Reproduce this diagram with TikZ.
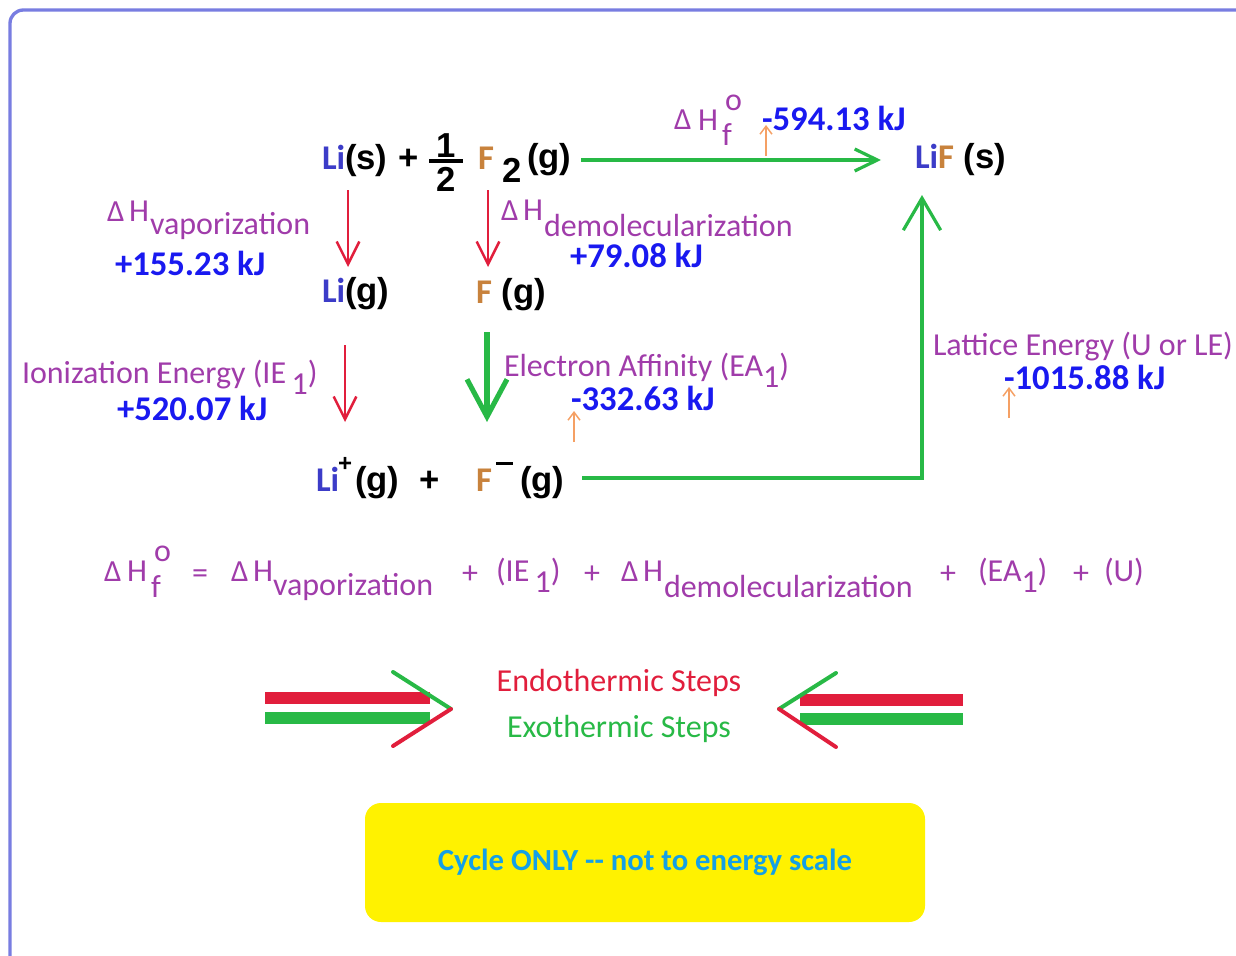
\documentclass[tikz,border=0pt]{standalone}
\usepackage{fontspec}
\setmainfont{Carlito}
\newfontfamily\arialf{Liberation Sans}
\newfontfamily\calf{Carlito}
\usetikzlibrary{arrows.meta}
\definecolor{purp}{RGB}{160,60,170}
\definecolor{valblue}{RGB}{25,25,240}
\definecolor{liblue}{RGB}{60,60,200}
\definecolor{fbrown}{RGB}{200,130,60}
\definecolor{redc}{RGB}{225,30,60}
\definecolor{greenc}{RGB}{40,185,70}
\definecolor{orangec}{RGB}{245,160,100}
\definecolor{cyanc}{RGB}{20,160,230}
\definecolor{yel}{RGB}{255,242,0}
\definecolor{framec}{RGB}{120,125,225}
\newcommand\LI{{\calf\bfseries\color{liblue}Li}}
\newcommand\FF{{\calf\bfseries\color{fbrown}F}}
\newcommand\lowr[1]{\raisebox{-0.35em}{#1}}
\begin{document}
\begin{tikzpicture}[x=0.75pt,y=-0.75pt,
  every node/.style={inner sep=0pt,outer sep=0pt,anchor=base west},
  chem/.style={font=\arialf\bfseries\fontsize{26}{30}\selectfont,text=black},
  chemsmall/.style={font=\arialf\bfseries\fontsize{18}{20}\selectfont,text=black},
  pur/.style={text=purp,font=\fontsize{24}{28}\selectfont},
  dlt/.style={text=purp,font=\fontsize{23}{26}\selectfont},
  val/.style={text=valblue,font=\bfseries\fontsize{26}{30}\selectfont},
  redarr/.style={draw=redc,line width=1.9pt,-{Straight Barb[length=17pt,width=17pt]}},
  grnarr/.style={draw=greenc,line width=2.4pt,-{Straight Barb[length=17pt,width=16.5pt]}},
  bigarr/.style={draw=greenc,line width=3.8pt,-{Straight Barb[length=28pt,width=30pt]}},
  uparr/.style={draw=greenc,line width=2.4pt,-{Straight Barb[length=24pt,width=28pt]}},
  orarr/.style={draw=orangec,line width=1.1pt,-{Straight Barb[length=6pt,width=9pt]}},
  legline/.style={line width=3pt,line cap=round}]
\useasboundingbox (0,0) rectangle (1236,956);
% frame
\draw[framec,line width=2.5pt,rounded corners=10pt] (10,975) -- (10,10) -- (1260,10);

% top row
\node[chem] (lis) at (322,169) {\LI(s)};
\node[chem] (plus1) at (398,169) {+};
\node[chem,anchor=base] (one) at (446,157) {1};
\node[chem,anchor=base] (two) at (446,191) {2};
\coordinate (fbl) at (429,161); \coordinate (fbr) at (463,161);
\draw[line width=2.4pt] (fbl) -- (fbr);
\node[chem] (f2) at (478,169) {\FF};
\node[chem] (sub2) at (502,182) {2};
\node[chem] (f2g) at (527,168) {(g)};
\coordinate (hfs) at (581,160); \coordinate (hfe) at (881,160);
\draw[grnarr] (hfs) -- (hfe);
\node[dlt] (hfd) at (674,130) {Δ};
\node[pur] (hfh) at (698,131) {H};
\node[pur] (hfo) at (725,111) {o};
\node[pur] (hff) at (722,146) {f};
\node[val] (hfv) at (762,131) {-594.13 kJ};
\coordinate (o1s) at (766,156); \coordinate (o1e) at (766,125);
\draw[orarr] (o1s) -- (o1e);
\node[chem] (lif) at (915,168) {\LI\FF\ (s)};

% vaporization / demolecularization
\coordinate (v1s) at (348,190); \coordinate (v1e) at (348,267);
\draw[redarr] (v1s) -- (v1e);
\coordinate (d1s) at (488,190); \coordinate (d1e) at (488,267);
\draw[redarr] (d1s) -- (d1e);
\node[dlt] (vapd) at (107,221) {Δ};
\node[pur] (vaph) at (129,221) {H};
\node[pur] (vaps) at (150,234) {vaporization};
\node[val] (vapv) at (115,275) {+155.23 kJ};
\node[dlt] (demd) at (501,220) {Δ};
\node[pur] (demh) at (523,220) {H};
\node[pur] (dems) at (544,236) {demolecularization};
\node[val] (demv) at (570,267) {+79.08 kJ};
\node[chem] (lig) at (322,302) {\LI(g)};
\node[chem] (fg) at (476,303) {\FF\ (g)};

% ionization / electron affinity
\coordinate (i1s) at (345,345); \coordinate (i1e) at (345,422);
\draw[redarr] (i1s) -- (i1e);
\coordinate (e1s) at (487,332); \coordinate (e1e) at (487,422);
\draw[bigarr] (e1s) -- (e1e);
\node[pur] (ion) at (22,383) {Ionization Energy (IE\,\lowr{1})};
\node[val] (ionv) at (117,420) {+520.07 kJ};
\node[pur] (ea) at (504,376) {Electron Affinity (EA\lowr{1})};
\node[val] (eav) at (571,410) {-332.63 kJ};
\coordinate (o2s) at (574,442); \coordinate (o2e) at (574,411);
\draw[orarr] (o2s) -- (o2e);

% ions row
\node[chem] (lip) at (316,491) {\LI};
\node[chemsmall] (lipsup) at (338,471) {+};
\node[chem] (lipg) at (355,491) {(g)};
\node[chem] (plus2) at (419,491) {+};
\node[chem] (fm) at (476,491) {\FF};
\node[chem] (fmsup) at (496,474) {\rule[0.25em]{0.5em}{0.09em}};
\node[chem] (fmg) at (520,491) {(g)};
\coordinate (les) at (582,478); \coordinate (lec) at (922,478); \coordinate (lee) at (922,195);
\draw[uparr] (les) -- (lec) -- (lee);
\node[pur] (lat) at (933,355) {Lattice Energy (U or LE)};
\node[val] (latv) at (1004,389) {-1015.88 kJ};
\coordinate (o3s) at (1009,418); \coordinate (o3e) at (1009,387);
\draw[orarr] (o3s) -- (o3e);

% equation
\node[dlt] (qd1) at (104,581) {Δ};
\node[pur] (qh1) at (127,581) {H};
\node[pur] (qo1) at (154,561) {o};
\node[pur] (qf1) at (151,597) {f};
\node[pur] (qeq) at (192,583) {=};
\node[dlt] (qd2) at (231,581) {Δ};
\node[pur] (qh2) at (253,581) {H};
\node[pur] (qv) at (273,595) {vaporization};
\node[pur] (qp1) at (462,583) {+};
\node[pur] (qie) at (496,581) {(IE\,\lowr{1})};
\node[pur] (qp2) at (584,583) {+};
\node[dlt] (qd3) at (621,581) {Δ};
\node[pur] (qh3) at (643,581) {H};
\node[pur] (qdm) at (664,597) {demolecularization};
\node[pur] (qp3) at (940,583) {+};
\node[pur] (qea) at (978,581) {(EA\lowr{1})};
\node[pur] (qp4) at (1073,583) {+};
\node[pur] (qu) at (1104,581) {(U)};

% legend
\fill[redc] (265,692) rectangle (430,704);
\fill[greenc] (265,712) rectangle (430,724);
\coordinate (lt1) at (393,672); \coordinate (lm1) at (451,709); \coordinate (lb1) at (393,746);
\draw[legline,greenc] (lt1) -- (lm1);
\draw[legline,redc] (lm1) -- (lb1);
\fill[redc] (800,694) rectangle (963,706);
\fill[greenc] (800,713) rectangle (963,725);
\coordinate (rt1) at (836,673); \coordinate (rm1) at (779,709); \coordinate (rb1) at (836,747);
\draw[legline,greenc] (rt1) -- (rm1);
\draw[legline,redc] (rm1) -- (rb1);
\node[pur,text=redc,anchor=center] (endo) at (619,683) {Endothermic Steps};
\node[pur,text=greenc,anchor=center] (exo) at (619,729) {Exothermic Steps};

% note box
\fill[yel,rounded corners=12pt] (365,803) rectangle (925,922);
\node[anchor=center,text=cyanc,font=\bfseries\fontsize{23}{28}\selectfont] (note) at (645,862) {Cycle ONLY -{}- not to energy scale};
\end{tikzpicture}
\end{document}
